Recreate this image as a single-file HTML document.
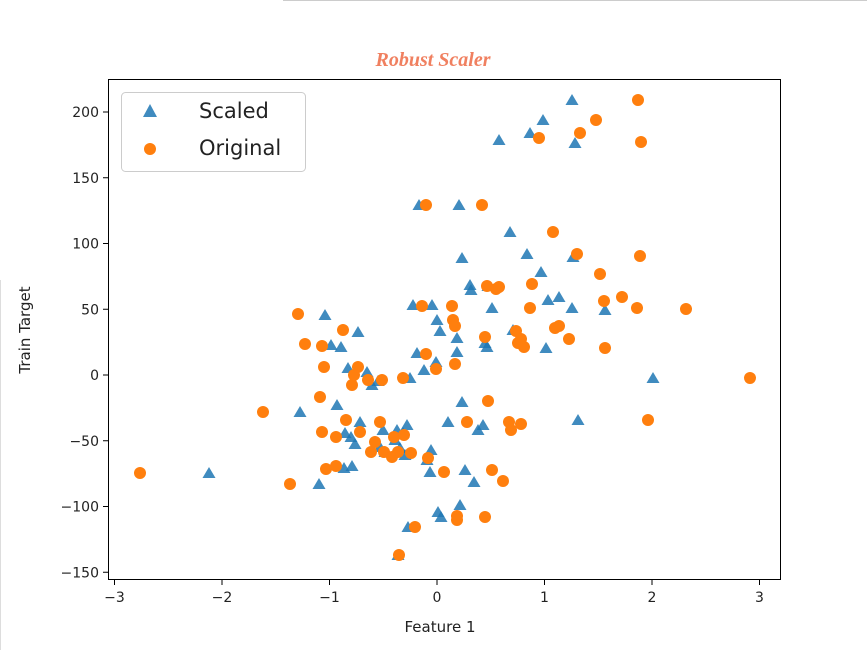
<!DOCTYPE html>
<html><head><meta charset="utf-8"><style>body{margin:0;background:#fff}svg{display:block}</style></head>
<body>
<svg id="s" width="867" height="650" xmlns="http://www.w3.org/2000/svg" font-family="DejaVu Sans, Liberation Sans, sans-serif">
<line x1="283" y1="0.5" x2="867" y2="0.5" stroke="#ccc"/>
<line x1="0.5" y1="280" x2="0.5" y2="650" stroke="#ddd"/>
<text x="433" y="66" text-anchor="middle" font-family="Liberation Serif, serif" font-style="italic" font-weight="bold" font-size="20" fill="#f08060">Robust Scaler</text>
<g id="pts"></g>
<rect x="108.5" y="79.5" width="672" height="500" fill="none" stroke="#000" stroke-width="1"/>
<g id="ax" font-size="14" fill="#222"></g>
<text x="440" y="632" text-anchor="middle" font-size="15" fill="#222">Feature 1</text>
<text transform="translate(30,330) rotate(-90)" text-anchor="middle" font-size="15" fill="#222">Train Target</text>
<rect x="121.5" y="92.5" width="184" height="79" rx="4" fill="#fff" fill-opacity="0.85" stroke="#ccc"/>
<polygon points="150,104 157,117 143,117" fill="#1f77b4" fill-opacity="0.85"/>
<circle cx="150" cy="149" r="6" fill="#ff7f0e"/>
<text x="199" y="118" font-size="21" fill="#222">Scaled</text>
<text x="199" y="155" font-size="21" fill="#222">Original</text>
</svg>
<script>
var T=[[209,473],[300,412],[319,484],[325,315],[331,345],[341,347],[337,405],[348,368],[345,433],[344,468],[352,466],[355,444],[351,437],[360,422],[358,332],[367,372],[372,385],[378,381],[383,430],[380,447],[385,452],[395,440],[397,430],[400,448],[403,433],[407,425],[405,455],[410,378],[413,305],[417,353],[419,205],[424,370],[427,460],[430,472],[431,450],[432,305],[437,320],[440,331],[436,362],[438,512],[441,517],[448,422],[457,338],[457,352],[459,205],[460,505],[462,402],[462,258],[465,470],[470,285],[471,290],[474,482],[478,430],[483,425],[485,343],[487,347],[488,286],[492,308],[499,140],[510,232],[513,330],[527,254],[530,133],[541,272],[543,120],[546,348],[548,300],[559,297],[572,308],[572,100],[573,257],[575,143],[578,420],[605,310],[653,378],[398,555],[408,527]];
var C=[[140,473],[263,412],[290,484],[298,314],[305,344],[322,346],[320,397],[324,367],[322,432],[326,469],[336,466],[336,437],[343,330],[346,420],[352,385],[354,375],[358,367],[360,432],[368,380],[371,452],[375,442],[382,380],[380,422],[384,452],[392,457],[394,437],[398,452],[399,555],[403,378],[404,435],[411,453],[415,527],[422,306],[426,354],[428,458],[426,205],[436,369],[444,472],[452,306],[453,320],[455,326],[455,364],[457,516],[457,520],[467,422],[482,205],[485,337],[485,517],[488,401],[487,286],[496,289],[492,470],[499,287],[503,481],[509,422],[511,430],[516,331],[518,343],[521,339],[524,347],[521,424],[530,308],[532,284],[539,138],[553,232],[555,328],[559,326],[569,339],[577,254],[580,133],[596,120],[600,274],[604,301],[605,348],[622,297],[637,308],[638,100],[641,142],[640,256],[648,420],[686,309],[750,378]];
var g=document.getElementById('pts'),h='';
T.forEach(function(p){var x=p[0],y=p[1];h+='<polygon points="'+x+','+(y-6)+' '+(x+6.5)+','+(y+5)+' '+(x-6.5)+','+(y+5)+'" fill="#1f77b4" fill-opacity="0.85"/>';});
C.forEach(function(p){h+='<circle cx="'+p[0]+'" cy="'+p[1]+'" r="6" fill="#ff7f0e"/>';});
g.innerHTML=h;
var a=document.getElementById('ax'),s='';
[-3,-2,-1,0,1,2,3].forEach(function(v){var x=437+v*107.5;s+='<line x1="'+x+'" y1="580" x2="'+x+'" y2="585" stroke="#000"/><text x="'+x+'" y="602" text-anchor="middle">'+(v<0?'\u2212'+(-v):v)+'</text>';});
[200,150,100,50,0,-50,-100,-150].forEach(function(v){var y=375-v*1.315;s+='<line x1="103" y1="'+y+'" x2="108" y2="'+y+'" stroke="#000"/><text x="99" y="'+(y+5)+'" text-anchor="end">'+(v<0?'\u2212'+(-v):v)+'</text>';});
a.innerHTML=s;
</script>
</body></html>
